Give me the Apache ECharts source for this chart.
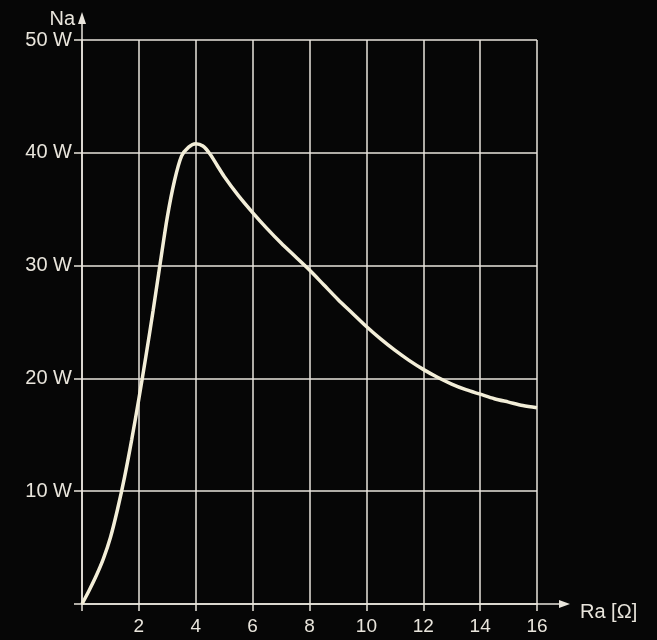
<!DOCTYPE html>
<html>
<head>
<meta charset="utf-8">
<script src="https://cdn.jsdelivr.net/npm/echarts@6/dist/echarts.min.js"></script>
<style>
html,body{margin:0;padding:0;background:#060606;}
#c{width:657px;height:640px;}
</style>
</head>
<body>
<div id="c"></div>
<script>
// Data
const raValues = [0, 0.25, 0.5, 0.75, 1.0, 1.25, 1.5, 1.75, 2.0, 2.25, 2.5, 2.75, 3.0, 3.25, 3.5, 3.75, 4.0, 4.25, 4.5, 4.75, 5.0, 5.5, 6, 6.5, 7, 7.5, 8, 8.5, 9, 9.5, 10, 10.5, 11, 11.5, 12, 12.5, 13, 13.5, 14, 14.5, 15, 15.5, 16];
const naValues = [0, 1.2, 2.5, 4.0, 5.9, 8.4, 11.3, 14.6, 18.2, 22.0, 26.0, 30.2, 34.3, 37.5, 39.7, 40.5, 40.8, 40.6, 39.9, 38.9, 37.9, 36.2, 34.7, 33.3, 32.0, 30.8, 29.6, 28.3, 27.0, 25.8, 24.6, 23.5, 22.5, 21.6, 20.8, 20.1, 19.5, 19.0, 18.6, 18.2, 17.9, 17.6, 17.4];
const xTicks = [2, 4, 6, 8, 10, 12, 14, 16];
const yTicks = [10, 20, 30, 40, 50];
const xName = 'Ra [Ω]';
const yName = 'Na';

const fg = '#e9e5dc';
const font = 'Liberation Sans, Arial, sans-serif';
const chart = echarts.init(document.getElementById('c'));
const option = {
  backgroundColor: '#060606',
  animation: false,
  grid: {left: 82, right: 120, top: 40, bottom: 36},
  xAxis: {
    type: 'value', min: 0, max: 16, interval: 2,
    axisLine: {show: true, lineStyle: {color: fg, width: 1.5}},
    axisTick: {show: true, length: 7, lineStyle: {color: fg, width: 1.5}},
    axisLabel: {color: fg, fontSize: 19, fontFamily: font, margin: 13,
      formatter: v => xTicks.includes(v) ? String(v) : ''},
    splitLine: {show: true, lineStyle: {color: fg, width: 1.5}}
  },
  yAxis: {
    type: 'value', min: 0, max: 50, interval: 10,
    axisLine: {show: true, lineStyle: {color: fg, width: 1.5}},
    axisTick: {show: true, length: 8, lineStyle: {color: fg, width: 1.5}},
    axisLabel: {color: fg, fontSize: 20, fontFamily: font, margin: 10,
      formatter: v => yTicks.includes(v) ? v + ' W' : ''},
    splitLine: {show: true, lineStyle: {color: fg, width: 1.5}}
  },
  series: [{
    type: 'line',
    data: raValues.map((x, i) => [x, naValues[i]]),
    smooth: 0.3,
    showSymbol: false,
    lineStyle: {color: '#f3eed8', width: 3.5}
  }]
};
chart.setOption(option);

const xe = chart.convertToPixel({gridIndex: 0}, [16, 0]);
const ye = chart.convertToPixel({gridIndex: 0}, [0, 50]);
chart.setOption({
  graphic: [
    {type: 'line', shape: {x1: xe[0], y1: xe[1], x2: xe[0] + 25, y2: xe[1]}, style: {stroke: fg, lineWidth: 1.5}},
    {type: 'polygon', shape: {points: [[xe[0] + 33, xe[1]], [xe[0] + 22, xe[1] - 4], [xe[0] + 22, xe[1] + 4]]}, style: {fill: fg}},
    {type: 'text', x: xe[0] + 43, y: xe[1] + 8, style: {text: xName, fill: fg, fontSize: 20, fontFamily: font, textVerticalAlign: 'middle'}},
    {type: 'line', shape: {x1: ye[0], y1: ye[1], x2: ye[0], y2: ye[1] - 20}, style: {stroke: fg, lineWidth: 1.5}},
    {type: 'polygon', shape: {points: [[ye[0], ye[1] - 28], [ye[0] - 4, ye[1] - 16], [ye[0] + 4, ye[1] - 16]]}, style: {fill: fg}},
    {type: 'text', x: ye[0] - 7, y: ye[1] - 21, style: {text: yName, fill: fg, fontSize: 20, fontFamily: font, textAlign: 'right', textVerticalAlign: 'middle'}}
  ]
});
</script>
</body>
</html>
